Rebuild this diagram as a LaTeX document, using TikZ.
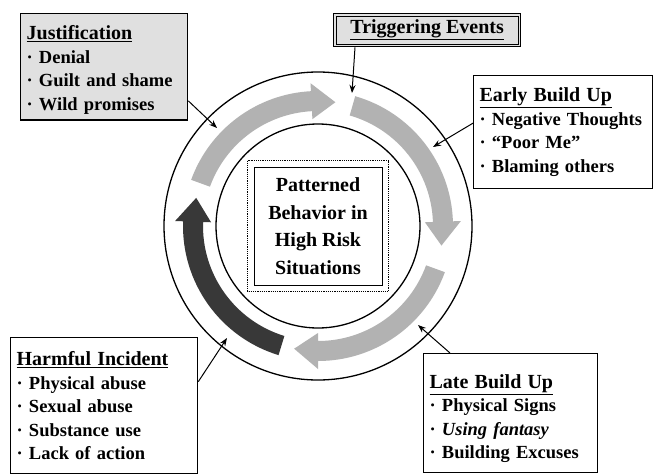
\documentclass[tikz,border=0pt]{standalone}
\usepackage{fontspec}
\setmainfont{Liberation Serif}
\usetikzlibrary{arrows.meta}

% clockwise arrow inside the ring: start angle, tip angle, colour
\newcommand{\ringarrow}[3]{%
  \fill[#3, shift={(318,-226)}] (#1:135) arc[start angle=#1, end angle=#2+11, radius=135]
    -- (#2+11:143) -- (#2:125) -- (#2+11:107) -- (#2+11:115)
    arc[start angle=#2+11, end angle=#1, radius=115] -- cycle;
}

\begin{document}
\begin{tikzpicture}[x=1pt, y=1pt, line width=1.3pt,
    infobox/.style={draw, anchor=north west, align=left, inner sep=6pt,
      font=\fontsize{18.5}{23.5}\selectfont\bfseries},
    cue/.style={line width=1pt, -{Stealth[length=8pt, width=6pt]}}]
      \def\ttl#1{{\fontsize{20}{23.5}\selectfont\underline{#1}}}

      \useasboundingbox (0,0) rectangle (655,-474);
      \fill[white] (0,0) rectangle (655,-474);

      % ring
      \coordinate (C) at (318,-226);
      \draw (C) circle[radius=154];
      \draw (C) circle[radius=102];

      \ringarrow{160}{82}{black!30}
      \ringarrow{74}{-9}{black!30}
      \ringarrow{-20}{-101}{black!30}
      \ringarrow{253}{167}{black!78}

      % centre
      \node[draw, line width=1pt, minimum width=128pt, minimum height=118pt, align=center,
        font=\fontsize{20}{27.5}\selectfont\bfseries] (core) at (C)
        {Patterned\\Behavior in\\High Risk\\Situations};
      \draw[densely dotted, line width=1.2pt] ([shift={(-6,6)}]core.north west) rectangle ([shift={(6,-6)}]core.south east);

      % boxes
      \node[infobox, fill=black!12, text width=155pt, minimum height=103pt] (jus) at (20,-13)
        {\rule{0pt}{20pt}\ttl{Justification}\\ · Denial\\ · Guilt and shame\\ · Wild promises};
      \node[infobox, fill=black!12, align=center, inner sep=3pt, minimum width=187pt, minimum height=33pt] (trig) at (333,-13)
        {\ttl{Triggering Events}};
      \draw[line width=0.6pt] ([shift={(3,-3)}]trig.north west) rectangle ([shift={(-3,3)}]trig.south east);
      \node[infobox, text width=167pt, minimum height=113pt] (early) at (473,-75)
        {\ttl{Early Build Up}\\ · Negative Thoughts\\ · “Poor Me”\\ · Blaming others};
      \node[infobox, text width=162pt, minimum height=119pt] (late) at (423,-353)
        {\rule{0pt}{25pt}\ttl{Late Build Up}\\ · Physical Signs\\ · \textit{Using fantasy}\\ · Building Excuses};
      \node[infobox, text width=175pt, minimum height=136pt] (harm) at (10,-337)
        {\ttl{Harmful Incident}\\ · Physical abuse\\ · Sexual abuse\\ · Substance use\\ · Lack of action};

      % connectors
      \coordinate (jusT) at (217,-128);
      \coordinate (trigT) at (352,-93);
      \coordinate (earlyT) at (433,-147);
      \coordinate (lateT) at (418,-325);
      \coordinate (harmT) at (227,-338);
      \draw[cue] ([yshift=-34pt]jus.east) -- (jusT);
      \draw[cue] ([xshift=22pt]trig.south west) -- (trigT);
      \draw[cue] ([yshift=9pt]early.west) -- (earlyT);
      \draw[cue] ([xshift=27pt]late.north west) -- (lateT);
      \draw[cue] ([yshift=24pt]harm.east) -- (harmT);

    \end{tikzpicture}
\end{document}
